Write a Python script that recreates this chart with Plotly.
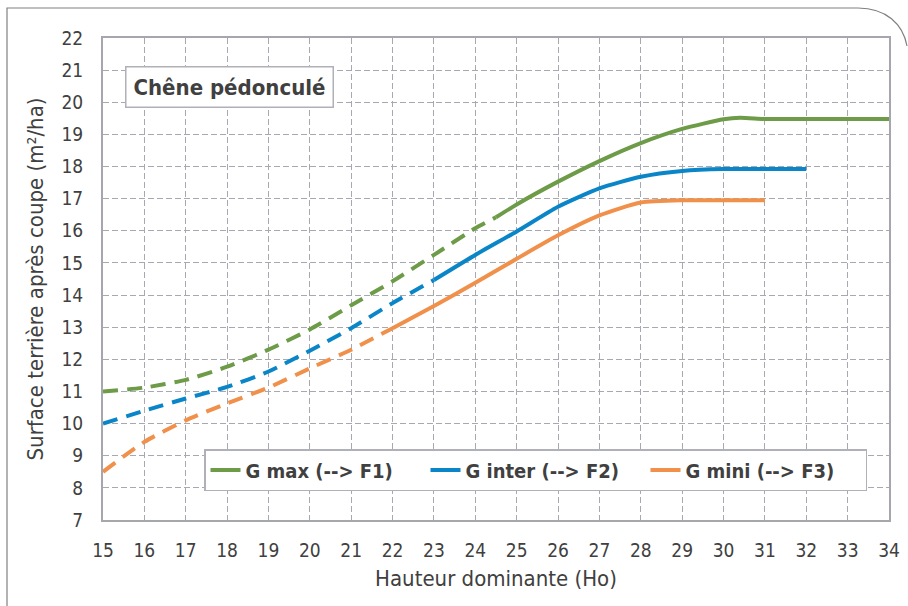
import plotly.graph_objects as go

# ---- data ----
h_max_dash = [15, 16, 17, 18, 19, 20, 21, 22, 23, 24, 24.5]
g_max_dash = [11.0, 11.12, 11.36, 11.77, 12.3, 12.93, 13.68, 14.43, 15.25, 16.08, 16.42]
h_max = [24.5, 25, 26, 27, 28, 29, 30, 30.4, 31, 32, 33, 34]
g_max = [16.42, 16.82, 17.53, 18.17, 18.73, 19.17, 19.47, 19.52, 19.48, 19.48, 19.48, 19.48]

h_inter_dash = [15, 16, 17, 18, 19, 20, 21, 22, 23]
g_inter_dash = [10.0, 10.4, 10.78, 11.14, 11.62, 12.27, 12.97, 13.75, 14.47]
h_inter = [23, 24, 25, 26, 27, 28, 29, 30, 31, 32]
g_inter = [14.47, 15.25, 15.98, 16.75, 17.32, 17.68, 17.86, 17.92, 17.92, 17.92]

h_mini_dash = [15, 16, 17, 18, 19, 20, 21, 22]
g_mini_dash = [8.5, 9.43, 10.1, 10.63, 11.12, 11.72, 12.3, 12.97]
h_mini = [22, 23, 24, 25, 26, 27, 28, 29, 30, 31]
g_mini = [12.97, 13.66, 14.38, 15.13, 15.86, 16.48, 16.88, 16.95, 16.95, 16.95]

names = ["G max (--> F1)", "G inter (--> F2)", "G mini (--> F3)"]
x_ticks = list(range(15, 35))
y_ticks = list(range(7, 23))

GREEN = "#6d9b48"
BLUE = "#0a86c8"
ORANGE = "#f0904a"
FONT = "DejaVu Sans Condensed, Liberation Sans Narrow, sans-serif"

fig = go.Figure()
series = [
    (h_max_dash, g_max_dash, h_max, g_max, GREEN, names[0], "g1"),
    (h_inter_dash, g_inter_dash, h_inter, g_inter, BLUE, names[1], "g2"),
    (h_mini_dash, g_mini_dash, h_mini, g_mini, ORANGE, names[2], "g3"),
]
for hd, gd, hs, gs, col, nm, grp in series:
    fig.add_trace(go.Scatter(x=hd, y=gd, mode="lines", legendgroup=grp, showlegend=False,
                             line=dict(color=col, width=4, dash="15px,9px", shape="spline", smoothing=0.6),
                             hoverinfo="skip"))
    fig.add_trace(go.Scatter(x=hs, y=gs, mode="lines", name=nm, legendgroup=grp,
                             line=dict(color=col, width=4, shape="spline", smoothing=0.6)))

L, R, T, B = 103, 19, 38, 86
W, H = 908, 606
pw, ph = W - L - R, H - T - B

def px(xp):
    return (xp - L) / pw

def py(yp):
    return (H - B - yp) / ph

frame = (f"M {px(7)},{py(606)} L {px(7)},{py(8)} L {px(858)},{py(8)} "
         f"C {px(886)},{py(8)} {px(903)},{py(24)} {px(907)},{py(46)}")

fig.update_layout(
    width=W, height=H,
    margin=dict(l=L, r=R, t=T, b=B, autoexpand=False),
    paper_bgcolor="white", plot_bgcolor="white",
    font=dict(family=FONT, color="#404040", size=19),
    showlegend=True,
    legend=dict(orientation="h", x=px(204), y=py(449), xanchor="left", yanchor="top",
                bgcolor="white", bordercolor="#b0b0b8", borderwidth=1.5,
                font=dict(family=FONT, size=20, color="#404040", weight="bold"),
                itemwidth=30, traceorder="normal", entrywidth=175, entrywidthmode="pixels"),
    shapes=[dict(type="path", path=frame, xref="paper", yref="paper",
                 line=dict(color="#808080", width=1.2), layer="below")],
    annotations=[dict(text="<b>Chêne pédonculé</b>", xref="paper", yref="paper",
                      x=px(125), y=py(87), xanchor="left", yanchor="middle", showarrow=False,
                      font=dict(family=FONT, size=22, color="#404040"),
                      bgcolor="white", bordercolor="#b0b0b8", borderwidth=1.5, borderpad=7)],
)
fig.update_xaxes(range=[15, 34], tickvals=x_ticks, ticktext=[str(v) for v in x_ticks],
                 showgrid=True, gridcolor="#a8a8b0", griddash="6px,3px", gridwidth=1,
                 showline=True, linecolor="#a6a6ae", linewidth=2, mirror=True,
                 ticks="", ticklabelstandoff=12, zeroline=False, automargin=False,
                 title=dict(text="Hauteur dominante (Ho)", font=dict(size=22), standoff=11))
fig.update_yaxes(range=[7, 22], tickvals=y_ticks, ticktext=[str(v) for v in y_ticks],
                 showgrid=True, gridcolor="#a8a8b0", griddash="6px,3px", gridwidth=1,
                 showline=True, linecolor="#a6a6ae", linewidth=2, mirror=True,
                 ticks="", ticklabelstandoff=14, zeroline=False, automargin=False,
                 title=dict(text="Surface terrière après coupe (m²/ha)", font=dict(size=22), standoff=12))

fig.write_html("out.html", config={"displayModeBar": False},
               post_script="document.body.style.margin='0';document.body.style.overflow='hidden';")
